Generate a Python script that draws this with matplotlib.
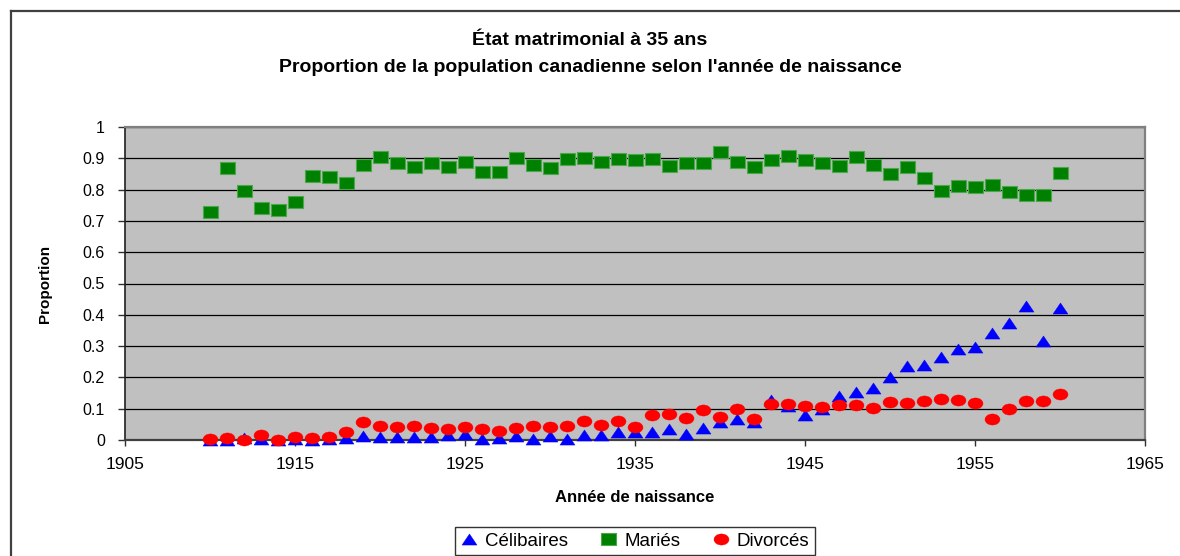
import matplotlib
matplotlib.use("Agg")
import matplotlib.pyplot as plt
import numpy as np
from matplotlib.path import Path
from matplotlib.lines import Line2D

# ---------------- data ----------------
annees = list(range(1910, 1961))

celibataires = [0.000, 0.000, 0.005, 0.002, 0.000, 0.002, 0.001, 0.003, 0.005, 0.012,
                0.011, 0.010, 0.009, 0.009, 0.016, 0.019, 0.004, 0.005, 0.013, 0.004,
                0.014, 0.004, 0.015, 0.016, 0.024, 0.025, 0.026, 0.035, 0.020, 0.037,
                0.059, 0.067, 0.059, 0.128, 0.110, 0.080, 0.098, 0.141, 0.153, 0.167,
                0.201, 0.237, 0.240, 0.264, 0.291, 0.298, 0.343, 0.373, 0.429, 0.316,
                0.423]

maries = [0.729, 0.868, 0.795, 0.742, 0.735, 0.759, 0.844, 0.840, 0.822, 0.879,
          0.903, 0.886, 0.873, 0.884, 0.871, 0.888, 0.857, 0.855, 0.900, 0.879,
          0.870, 0.897, 0.901, 0.887, 0.899, 0.895, 0.899, 0.874, 0.884, 0.884,
          0.919, 0.888, 0.872, 0.893, 0.906, 0.896, 0.884, 0.875, 0.903, 0.877,
          0.849, 0.873, 0.836, 0.795, 0.812, 0.807, 0.816, 0.791, 0.783, 0.783,
          0.853]

divorces = [0.003, 0.006, 0.000, 0.016, 0.000, 0.008, 0.006, 0.009, 0.027, 0.056,
            0.044, 0.042, 0.044, 0.037, 0.035, 0.043, 0.036, 0.029, 0.039, 0.045,
            0.040, 0.046, 0.060, 0.048, 0.060, 0.040, 0.080, 0.084, 0.069, 0.096,
            0.072, 0.099, 0.068, 0.114, 0.116, 0.109, 0.107, 0.112, 0.111, 0.103,
            0.122, 0.119, 0.125, 0.132, 0.128, 0.119, 0.068, 0.099, 0.126, 0.126,
            0.147]

series_noms = ["Célibaires", "Mariés", "Divorcés"]
titre = "État matrimonial à 35 ans\nProportion de la population canadienne selon l'année de naissance"
xlabel = "Année de naissance"
ylabel = "Proportion"
xticks = [1905, 1915, 1925, 1935, 1945, 1955, 1965]
yticks = [0, 0.1, 0.2, 0.3, 0.4, 0.5, 0.6, 0.7, 0.8, 0.9, 1]
ytick_labels = ["0", "0.1", "0.2", "0.3", "0.4", "0.5", "0.6", "0.7", "0.8", "0.9", "1"]

# ---------------- style ----------------
plt.rcParams['font.family'] = ['Liberation Sans', 'DejaVu Sans']

r = 0.74
rect_marker = Path([(-1, -r), (1, -r), (1, r), (-1, r), (-1, -r)],
                   [Path.MOVETO, Path.LINETO, Path.LINETO, Path.LINETO, Path.CLOSEPOLY])
tri_marker = Path([(0, r), (-1, -r), (1, -r), (0, r)],
                  [Path.MOVETO, Path.LINETO, Path.LINETO, Path.CLOSEPOLY])
circ = Path.unit_circle()
ell_marker = Path(circ.vertices * np.array([1.0, r]), circ.codes)

W, H = 1180, 556
fig = plt.figure(figsize=(W / 100, H / 100), dpi=100)
fig.patch.set_facecolor("white")

ax_l, ax_r, ax_t, ax_b = 125, 1145, 127, 440
ax = fig.add_axes([ax_l / W, 1 - ax_b / H, (ax_r - ax_l) / W, (ax_b - ax_t) / H])
ax.set_facecolor("#C0C0C0")

ms = 10.8
ax.plot(annees, celibataires, linestyle="none", marker=tri_marker, ms=ms,
        color="#0000FF", mec="#0000FF", mew=0.3, clip_on=False, zorder=3,
        label=series_noms[0])
ax.plot(annees, maries, linestyle="none", marker=rect_marker, ms=ms,
        color="#008000", mec="#4CA64C", mew=0.8, clip_on=False, zorder=4,
        label=series_noms[1])
ax.plot(annees, divorces, linestyle="none", marker=ell_marker, ms=ms,
        color="#FF0000", mec="#FF0000", mew=0.3, clip_on=False, zorder=5,
        label=series_noms[2])

ax.set_xlim(1905, 1965)
ax.set_ylim(0, 1)
ax.set_xticks(xticks)
ax.set_xticklabels([str(t) for t in xticks], fontsize=12.5)
ax.set_yticks(yticks)
ax.set_yticklabels(ytick_labels, fontsize=11.5)
ax.yaxis.grid(True, color="black", linewidth=0.9)
ax.set_axisbelow(True)
ax.tick_params(axis="y", direction="out", length=5, width=1, pad=9.5, color="#303030")
ax.tick_params(axis="x", direction="out", length=4, width=1, pad=8, color="#303030")

for side in ["top", "right"]:
    ax.spines[side].set_color("#808080")
    ax.spines[side].set_linewidth(1.6)
ax.spines["left"].set_color("#202020")
ax.spines["left"].set_linewidth(1.2)
ax.spines["bottom"].set_color("#404040")
ax.spines["bottom"].set_linewidth(1.6)

ax.set_xlabel(xlabel, fontsize=12, fontweight="bold", labelpad=13.5)
ax.set_ylabel(ylabel, fontsize=11, fontweight="bold", labelpad=22)

fig.text(590 / W, 1 - 54 / H, titre, ha="center", va="center",
         fontsize=14, fontweight="bold", linespacing=1.72)

# outer chart frame (left and top edges visible)
fig.add_artist(Line2D([11 / W, 11 / W], [0, 1 - 11 / H], transform=fig.transFigure,
                      color="#404040", linewidth=1.6))
fig.add_artist(Line2D([11 / W, 1], [1 - 11 / H, 1 - 11 / H], transform=fig.transFigure,
                      color="#404040", linewidth=1.6))

handles = [
    Line2D([], [], linestyle="none", marker=tri_marker, ms=ms, color="#0000FF", mew=0.3),
    Line2D([], [], linestyle="none", marker=rect_marker, ms=ms, color="#008000",
           mec="#4CA64C", mew=0.8),
    Line2D([], [], linestyle="none", marker=ell_marker, ms=ms, color="#FF0000", mew=0.3),
]
leg = fig.legend(handles, series_noms, loc="center", ncol=3,
                 bbox_to_anchor=(635 / W, 1 - 541 / H), fontsize=13.5,
                 frameon=True, fancybox=False, edgecolor="black",
                 handlelength=0.9, handletextpad=0.4, columnspacing=1.7,
                 borderpad=0.3, borderaxespad=0)
leg.get_frame().set_linewidth(1.0)

fig.savefig("out.png", dpi=100, facecolor="white")
